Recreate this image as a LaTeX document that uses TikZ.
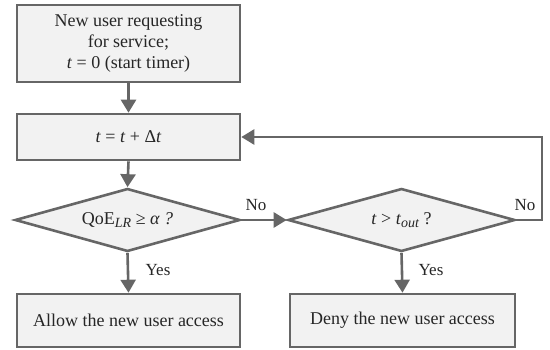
\documentclass[tikz,border=0pt]{standalone}
\usepackage{fontspec}
\setmainfont{Liberation Serif}
\usetikzlibrary{arrows.meta,shapes.geometric}
\definecolor{edgegray}{HTML}{666666}
\definecolor{boxfill}{HTML}{F2F2F2}
\definecolor{textgray}{HTML}{262626}
\newcommand{\subit}[1]{\raisebox{-0.35ex}{\fontsize{14}{16}\selectfont\itshape #1}}
\begin{document}
\begin{tikzpicture}[x=1pt,y=-1pt,
  font=\fontsize{18}{21}\selectfont, text=textgray,
  procbox/.style={draw=edgegray, fill=boxfill, line width=2.6pt, inner sep=0pt, align=center},
  decbox/.style={draw=edgegray, fill=boxfill, line width=2.6pt, shape=diamond, inner sep=0pt},
  flow/.style={draw=edgegray, line width=2.6pt, -{Triangle[width=15pt,length=13pt]}},
  lbl/.style={font=\fontsize{17}{20}\selectfont, inner sep=0pt}]
\useasboundingbox (0,0) rectangle (550,350);
\node[procbox, minimum width=223pt, minimum height=77pt] (b1) at (128.5,43.5)
  {New user requesting\\for service;\\\textit{t} = 0 (start timer)};
\node[procbox, minimum width=223pt, minimum height=46pt] (b2) at (128.5,137)
  {\textit{t} = \textit{t} + Δ\textit{t}};
\node[decbox, minimum width=225pt, minimum height=63pt] (d1) at (127.5,220) {};
\node (d1t) at (d1.center) {QoE\subit{LR} ≥ \textit{α ?}};
\node[procbox, minimum width=223pt, minimum height=53pt] (b3) at (128.5,320.5)
  {Allow the new user access};
\node[decbox, minimum width=227pt, minimum height=63pt] (d2) at (401.5,220) {};
\node (d2t) at (d2.center) {\textit{t} > \textit{t}\subit{out} ?};
\node[procbox, minimum width=225pt, minimum height=53pt] (b4) at (402.5,320.5)
  {Deny the new user access};
\coordinate (loopR) at (542,220);
\draw[flow] (b1.south) -- (b2.north);
\draw[flow] (b2.south) -- (d1.north);
\draw[flow] (d1.south) -- (b3.north);
\draw[flow] (d1.east) -- (d2.west);
\draw[flow] (d2.south) -- (b4.north);
\draw[flow] (d2.east) -- (loopR) |- (b2.east);
\node[lbl] (y1) at (158,270) {Yes};
\node[lbl] (y2) at (431,270) {Yes};
\node[lbl] (n1) at (256,205) {No};
\node[lbl] (n2) at (525,205) {No};
\end{tikzpicture}
\end{document}
